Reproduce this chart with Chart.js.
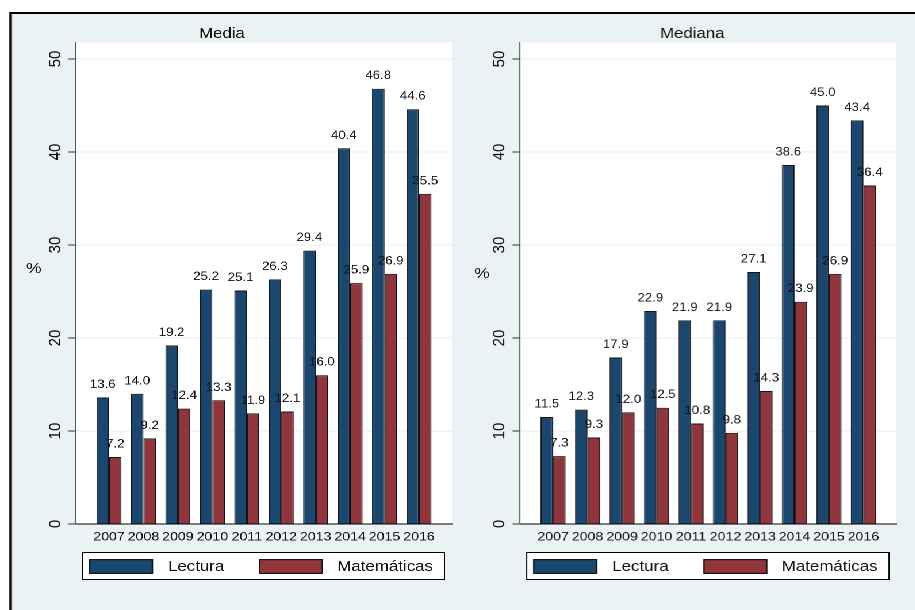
<!DOCTYPE html>
<html>
<head>
<meta charset="utf-8">
<script src="https://cdn.jsdelivr.net/npm/chart.js@4/dist/chart.umd.min.js"></script>
<style>
  html, body { margin: 0; padding: 0; background: #fff; overflow: hidden; width: 915px; height: 610px; }
  #wrap { position: absolute; left: 0; top: 0; width: 795.65px; height: 610px; transform: scaleX(1.15); transform-origin: 0 0; }
  #frame { position: absolute; left: 7.9px; top: 12px; width: 830px; height: 650px; border: 2px solid #000; background: #EAF2F3; box-sizing: border-box; }
  .panel { position: absolute; top: 0; height: 610px; }
</style>
</head>
<body>
<div id="wrap">
  <div id="frame"></div>
  <div class="panel" style="left:0; width:397px;"><canvas id="media"></canvas></div>
  <div class="panel" style="left:397px; width:398.65px;"><canvas id="mediana"></canvas></div>
</div>
<script>
// Años evaluados
const years = ['2007', '2008', '2009', '2010', '2011', '2012', '2013', '2014', '2015', '2016'];

// Media
const mediaLectura = [13.6, 14.0, 19.2, 25.2, 25.1, 26.3, 29.4, 40.4, 46.8, 44.6];
const mediaMatematicas = [7.2, 9.2, 12.4, 13.3, 11.9, 12.1, 16.0, 25.9, 26.9, 35.5];

// Mediana
const medianaLectura = [11.5, 12.3, 17.9, 22.9, 21.9, 21.9, 27.1, 38.6, 45.0, 43.4];
const medianaMatematicas = [7.3, 9.3, 12.0, 12.5, 10.8, 9.8, 14.3, 23.9, 26.9, 36.4];

// Marcas del eje vertical
const yTicks = [0, 10, 20, 30, 40, 50];

const seriesNames = ['Lectura', 'Matemáticas'];
const FONT = "'Liberation Sans', Arial, Helvetica, sans-serif";
const NAVY = '#1A476F';
const MAROON = '#90353B';
const EDGE = '#141414';

const decor = {
  id: 'panelDecor',
  beforeDraw(chart) {
    const { ctx, chartArea: a } = chart;
    ctx.save();
    ctx.fillStyle = '#ffffff';
    ctx.fillRect(a.left, a.top, a.right - a.left, a.bottom - a.top);
    ctx.restore();
  },
  afterDatasetsDraw(chart) {
    // valores sobre cada barra
    const { ctx } = chart;
    ctx.save();
    ctx.font = '11.5px ' + FONT;
    ctx.fillStyle = '#111';
    ctx.textAlign = 'center';
    ctx.textBaseline = 'alphabetic';
    chart.data.datasets.forEach((ds, d) => {
      chart.getDatasetMeta(d).data.forEach((el, i) => {
        ctx.fillText(ds.data[i].y.toFixed(1), el.x, el.y - 9.5);
      });
    });
    ctx.restore();
  },
  afterDraw(chart, args, opts) {
    const { ctx, chartArea: a } = chart;
    ctx.save();
    // título del panel
    ctx.fillStyle = '#111';
    ctx.font = '14.6px ' + FONT;
    ctx.textAlign = 'center';
    ctx.textBaseline = 'alphabetic';
    ctx.fillText(opts.title, opts.titleX, 38);
    // rótulo del eje
    ctx.font = '15px ' + FONT;
    ctx.textBaseline = 'middle';
    ctx.fillText('%', opts.pctX, opts.pctY);
    // leyenda
    const bx = a.left + 5.2, by = 552, bw = 315.7, bh = 28;
    ctx.fillStyle = '#fff';
    ctx.fillRect(bx, by, bw, bh);
    ctx.strokeStyle = '#000';
    ctx.lineWidth = 1;
    ctx.strokeRect(bx + 0.5, by + 0.5, bw - 1, bh - 1);
    const sw = [11.3, 159.1], tx = [80.0, 227.2];
    chart.data.datasets.forEach((ds, i) => {
      ctx.fillStyle = ds.backgroundColor;
      ctx.fillRect(a.left + sw[i], 559, 55.7, 15);
      ctx.strokeStyle = EDGE;
      ctx.lineWidth = 1.2;
      ctx.strokeRect(a.left + sw[i] + 0.6, 559.6, 54.5, 13.8);
      ctx.fillStyle = '#111';
      ctx.font = '14.7px ' + FONT;
      ctx.textAlign = 'left';
      ctx.textBaseline = 'middle';
      ctx.fillText(ds.label, a.left + tx[i], 567);
    });
    ctx.restore();
  }
};

function makePanel(id, lectura, matematicas, p) {
  const series = [lectura, matematicas];
  const colors = [NAVY, MAROON];
  return new Chart(document.getElementById(id), {
    type: 'bar',
    data: {
      datasets: series.map((vals, s) => ({
        label: seriesNames[s],
        data: years.map((_, i) => ({ x: i, y: vals[i] })),
        backgroundColor: colors[s],
        borderColor: EDGE,
        borderWidth: 1,
        categoryPercentage: 0.726,
        barPercentage: 1
      }))
    },
    options: {
      responsive: true,
      maintainAspectRatio: false,
      animation: false,
      devicePixelRatio: 2,
      layout: { padding: { left: 0, right: p.padRight, top: 42.7, bottom: 0 } },
      plugins: {
        legend: { display: false },
        title: { display: false },
        tooltip: { enabled: false },
        panelDecor: { title: p.title, titleX: p.titleX, pctX: p.pctX, pctY: p.pctY }
      },
      scales: {
        x: {
          type: 'linear',
          offset: false,
          min: -0.958,
          max: 9.958,
          grid: { display: false, drawTicks: false, offset: false },
          border: { display: true, color: '#000', width: 1 },
          ticks: {
            autoSkip: false, maxRotation: 0, minRotation: 0, padding: 5.8,
            color: '#111', font: { family: FONT, size: 12.3 },
            callback: (v) => years[v] ?? ''
          },
          afterBuildTicks: (sc) => { sc.ticks = years.map((_, i) => ({ value: i })); },
          afterFit: (sc) => { sc.height = 86; }
        },
        y: {
          type: 'linear',
          min: 0,
          max: 51.75,
          grid: {
            color: (c) => (c.tick && c.tick.value === 0) ? 'rgba(0,0,0,0)' : '#E6EEF0',
            lineWidth: 1,
            drawTicks: true,
            tickLength: 6.5,
            tickColor: '#333',
            tickWidth: 1
          },
          border: { display: true, color: '#555', width: 1 },
          ticks: {
            minRotation: 90, maxRotation: 90, crossAlign: 'center', padding: 3.0,
            color: '#111', font: { family: FONT, size: 15 }
          },
          afterBuildTicks: (sc) => { sc.ticks = yTicks.map(v => ({ value: v })); },
          afterFit: (sc) => { sc.width = p.plotLeft; }
        }
      }
    },
    plugins: [decor]
  });
}

makePanel('media', mediaLectura, mediaMatematicas, {
  title: 'Media', titleX: 193.0, pctX: 29.4, pctY: 269, plotLeft: 66.09, padRight: 3.96
});
makePanel('mediana', medianaLectura, medianaMatematicas, {
  title: 'Mediana', titleX: 204.7, pctX: 22.1, pctY: 274, plotLeft: 55.17, padRight: 16.52
});
</script>
</body>
</html>
